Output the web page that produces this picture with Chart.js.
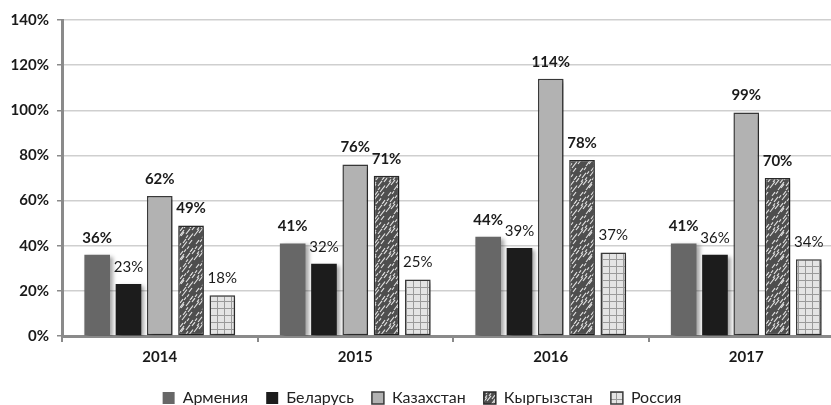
<!DOCTYPE html>
<html>
<head>
<meta charset="utf-8">
<script src="https://cdn.jsdelivr.net/npm/chart.js@4.4.1/dist/chart.umd.min.js"></script>
<style>
html,body{margin:0;padding:0;background:#fff;overflow:hidden;}
#wrap{width:860px;height:405px;position:relative;}
</style>
</head>
<body>
<div id="wrap"><canvas id="c"></canvas></div>
<script>
const categories = ['2014', '2015', '2016', '2017'];
const seriesNames = ['Армения', 'Беларусь', 'Казахстан', 'Кыргызстан', 'Россия'];
const armenia    = [36, 41, 44, 41];
const belarus    = [23, 32, 39, 36];
const kazakhstan = [62, 76, 114, 99];
const kyrgyzstan = [49, 71, 78, 70];
const russia     = [18, 25, 37, 34];
const yTicks = [0, 20, 40, 60, 80, 100, 120, 140];

const FONT = "Lato, 'Open Sans', sans-serif";

function hatchPattern() {
  const s = 24;
  const cv = document.createElement('canvas');
  cv.width = s; cv.height = s;
  const g = cv.getContext('2d');
  g.fillStyle = '#4e4e4e';
  g.fillRect(0, 0, s, s);
  g.strokeStyle = 'rgba(255,255,255,0.85)';
  g.lineWidth = 1.1;
  const streaks = [[2,20,5],[6,10,4],[10,22,6],[14,8,5],[18,18,4],[21,4,3],[4,4,3],[12,15,3],[20,24,5],[8,2,2],[16,12,2],[0,14,3],[7,17,4],[15,3,3],[22,12,3],[3,9,2],[11,6,2],[18,22,2],[5,14,2],[13,20,3],[19,9,2],[9,12,2]];
  streaks.forEach(([x, y, l]) => {
    for (const dx of [-s, 0, s]) for (const dy of [-s, 0, s]) {
      g.beginPath();
      g.moveTo(x + dx, y + dy);
      g.lineTo(x + dx + l, y + dy - l * 1.3);
      g.stroke();
    }
  });
  return g.createPattern(cv, 'repeat');
}
function gridPattern() {
  const s = 7;
  const cv = document.createElement('canvas');
  cv.width = s; cv.height = s;
  const g = cv.getContext('2d');
  g.fillStyle = '#e4e4e4';
  g.fillRect(0, 0, s, s);
  g.fillStyle = '#9a9a9a';
  g.fillRect(0, 0, s, 1);
  g.fillRect(0, 0, 1, s);
  return g.createPattern(cv, 'repeat');
}

const shadowPlugin = {
  id: 'shadow',
  beforeDatasetsDraw(chart) {
    const ctx = chart.ctx;
    ctx.save();
    ctx.shadowColor = 'rgba(0,0,0,0.35)';
    ctx.shadowOffsetX = 3;
    ctx.shadowOffsetY = 2;
    ctx.shadowBlur = 4;
  },
  afterDatasetsDraw(chart) {
    chart.ctx.restore();
  }
};
const labelPlugin = {
  id: 'vlabels',
  afterDraw(chart) {
    const ctx = chart.ctx;
    ctx.save();
    ctx.textAlign = 'center';
    ctx.textBaseline = 'middle';
    ctx.fillStyle = '#1a1a1a';
    chart.data.datasets.forEach((ds, i) => {
      const meta = chart.getDatasetMeta(i);
      const bold = (i === 0 || i === 2 || i === 3);
      ctx.font = (bold ? 'bold 15px ' : '15px ') + FONT;
      meta.data.forEach((el, j) => {
        ctx.fillText(ds.data[j] + '%', el.x, el.y - 17);
      });
    });
    ctx.restore();
  }
};

const common = { borderSkipped: false, categoryPercentage: 0.8, barPercentage: 0.82 };
new Chart(document.getElementById('c'), {
  type: 'bar',
  data: {
    labels: categories,
    datasets: [
      Object.assign({ label: seriesNames[0], data: armenia, backgroundColor: '#676767', borderColor: '#676767', borderWidth: 0 }, common),
      Object.assign({ label: seriesNames[1], data: belarus, backgroundColor: '#1c1c1c', borderColor: '#1c1c1c', borderWidth: 0 }, common),
      Object.assign({ label: seriesNames[2], data: kazakhstan, backgroundColor: '#b2b2b2', borderColor: '#3a3a3a', borderWidth: 1.5 }, common),
      Object.assign({ label: seriesNames[3], data: kyrgyzstan, backgroundColor: hatchPattern(), borderColor: '#2a2a2a', borderWidth: 1.5 }, common),
      Object.assign({ label: seriesNames[4], data: russia, backgroundColor: gridPattern(), borderColor: '#3a3a3a', borderWidth: 1.5 }, common)
    ]
  },
  options: {
    responsive: true,
    maintainAspectRatio: false,
    animation: false,
    layout: { padding: { left: 0, right: 16, top: 20, bottom: -11 } },
    plugins: {
      legend: {
        position: 'bottom',
        labels: { font: { family: FONT, size: 16 }, color: '#222', boxWidth: 12, boxHeight: 12, padding: 18 }
      },
      tooltip: { enabled: false }
    },
    scales: {
      x: {
        grid: { drawOnChartArea: false, drawTicks: true, tickLength: 6, color: '#8a8a8a', lineWidth: 2 },
        border: { color: '#8a8a8a', width: 3 },
        ticks: { font: { family: FONT, size: 15, weight: 'bold', lineHeight: 0.8 }, color: '#1a1a1a', padding: 9 }
      },
      y: {
        min: 0, max: 140,
        afterBuildTicks(scale) { scale.ticks = yTicks.map(v => ({ value: v })); },
        afterFit(scale) { scale.width = 62; },
        grid: { color: '#cfcfcf', lineWidth: 1.5, tickLength: 5, tickColor: '#8a8a8a' },
        border: { color: '#8a8a8a', width: 3 },
        ticks: { font: { family: FONT, size: 15, weight: 'bold' }, color: '#1a1a1a', padding: 8, callback: v => v + '%' }
      }
    }
  },
  plugins: [shadowPlugin, labelPlugin]
});
</script>
</body>
</html>
